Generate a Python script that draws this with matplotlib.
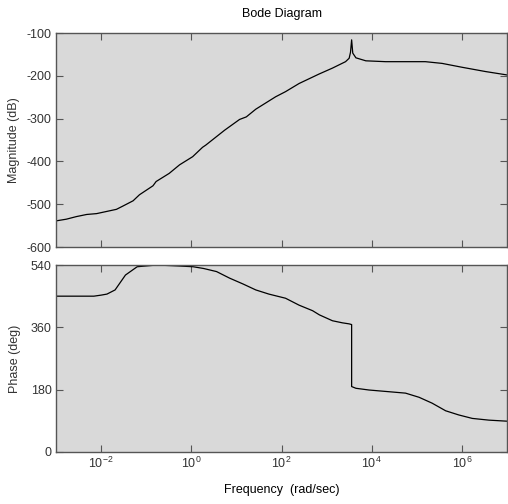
import numpy as np
import matplotlib
matplotlib.use("Agg")
import matplotlib.pyplot as plt

# Bode magnitude (log10 of rad/sec, dB)
mag_logw = [-3.0, -2.77, -2.55, -2.32, -2.10, -1.88, -1.66, -1.51, -1.29, -1.15,
            -0.85, -0.78, -0.49, -0.26, 0.03, 0.25, 0.32, 0.74, 1.07, 1.22,
            1.43, 1.87, 2.09, 2.39, 2.83, 3.13, 3.42, 3.50, 3.53, 3.555,
            3.58, 3.65, 3.87, 4.31, 5.19, 5.56, 6.0, 6.52, 7.0]
mag_db = [-539, -535, -529, -524, -522, -517, -512, -504, -492, -478,
          -457, -447, -428, -408, -389, -367, -362, -327, -302, -296,
          -278, -249, -237, -218, -196, -182, -167, -159, -145, -116,
          -147, -158, -165, -167, -167, -171, -180, -190, -198]

# Bode phase (deg)
ph_logw = [-3.0, -2.16, -2.0, -1.87, -1.69, -1.46, -1.2, -0.76, -0.25, 0.04,
           0.27, 0.56, 0.85, 1.15, 1.43, 1.72, 2.09, 2.39, 2.69, 2.84,
           3.13, 3.35, 3.50, 3.555, 3.555, 3.65, 3.94, 4.39, 4.75, 5.05,
           5.34, 5.64, 5.93, 6.23, 6.60, 7.0]
ph_deg = [450, 450, 453, 456, 468, 511, 535, 540, 537, 535,
          530, 521, 502, 485, 468, 456, 444, 424, 408, 396,
          379, 373, 370, 368, 189, 184, 179, 174, 170, 158,
          141, 119, 107, 97, 92, 89]

mag_ticks = [-600, -500, -400, -300, -200, -100]
ph_ticks = [0, 180, 360, 540]
w_ticks = [1e-2, 1e0, 1e2, 1e4, 1e6]

plt.rcParams['font.family'] = ['Liberation Sans Narrow', 'Liberation Sans', 'DejaVu Sans']
plt.rcParams['font.size'] = 9

fig = plt.figure(figsize=(5.08, 5.04), dpi=100)
W, H = 508.0, 504.0
ax1 = fig.add_axes([56 / W, 1 - 247 / H, 451 / W, 214 / H])
ax2 = fig.add_axes([56 / W, 1 - 452 / H, 451 / W, 187 / H])

face = '#d9d9d9'
spine_c = '#555555'
text_c = '#333333'

for ax in (ax1, ax2):
    ax.set_facecolor(face)
    ax.set_xscale('log')
    ax.set_xlim(1e-3, 1e7)
    ax.set_xticks(w_ticks)
    ax.minorticks_off()
    ax.tick_params(direction='in', length=5, width=0.8, top=True, right=True,
                   colors=spine_c, labelcolor=text_c, pad=3)
    for s in ax.spines.values():
        s.set_color(spine_c)
        s.set_linewidth(1.0)

ax1.plot(10 ** np.array(mag_logw), mag_db, color='black', lw=0.9)
ax1.set_ylim(-600, -100)
ax1.set_yticks(mag_ticks)
ax1.set_yticklabels([str(t) for t in mag_ticks])
ax1.tick_params(labelbottom=False)
ax1.set_ylabel('Magnitude (dB)', color=text_c)
ax1.yaxis.set_label_coords(-0.08, 0.5)
ax1.set_title('Bode Diagram', color='black', fontsize=9, pad=11.5)

ax2.plot(10 ** np.array(ph_logw), ph_deg, color='black', lw=0.9)
ax2.set_ylim(0, 540)
ax2.set_yticks(ph_ticks)
ax2.set_ylabel('Phase (deg)', color=text_c)
ax2.yaxis.set_label_coords(-0.078, 0.5)
ax2.set_xlabel('Frequency  (rad/sec)', color='black')
ax2.xaxis.set_label_coords(0.5, -0.17)

fig.savefig('out.png', dpi=100, facecolor='white')
